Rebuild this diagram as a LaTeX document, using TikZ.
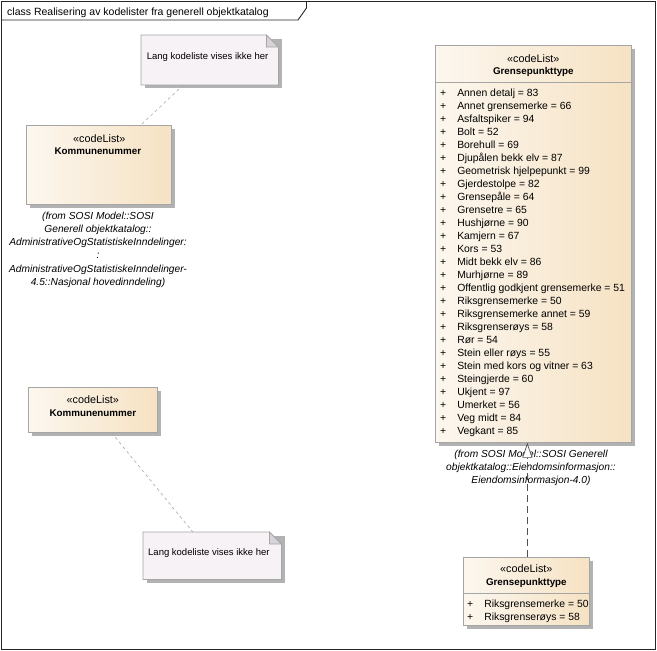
\documentclass[tikz,border=0pt]{standalone}
\usepackage{fontspec}
\setmainfont{Liberation Sans}
\usepackage{xcolor}
\usepackage{tikz}
\usetikzlibrary{arrows.meta}
\usetikzlibrary{calc}
\usetikzlibrary{shadows}
\definecolor{clsleft}{RGB}{252,247,239}
\definecolor{clsright}{RGB}{246,226,195}
\definecolor{clsline}{RGB}{165,165,165}
\definecolor{shadowgray}{RGB}{178,178,178}
\definecolor{notefill}{RGB}{246,242,246}
\definecolor{notefoldc}{RGB}{214,211,217}
\definecolor{linkgray}{RGB}{80,80,80}
\tikzstyle{frame}=[line width=.9pt,draw=black!85]
\tikzstyle{cls}=[draw=clsline,line width=.7pt,left color=clsleft,right color=clsright,anchor=north west,inner sep=0pt,drop shadow={shadow xshift=3.5pt,shadow yshift=-3.5pt,fill=shadowgray,opacity=1}]
\tikzstyle{notebox}=[anchor=north west,inner sep=0pt]
\tikzstyle{txt}=[inner sep=0pt,anchor=base]
\tikzstyle{stereo}=[txt,font=\fontsize{10.8}{13}\selectfont]
\tikzstyle{clsname}=[txt,font=\fontsize{9.8}{13}\selectfont\bfseries]
\tikzstyle{attrs}=[inner sep=0pt,anchor=base west,font=\fontsize{10.4}{13}\selectfont]
\tikzstyle{fromtxt}=[inner sep=0pt,anchor=north,align=center,font=\fontsize{10.2}{13.3}\selectfont\itshape]
\tikzstyle{notetxt}=[inner sep=0pt,anchor=base west,font=\fontsize{9.5}{13}\selectfont]
\tikzstyle{notelink}=[draw=black!35,line width=.6pt,dash pattern=on 3pt off 3pt]
\tikzstyle{real}=[draw=linkgray,line width=.7pt,dash pattern=on 7pt off 4pt,-{Triangle[length=15pt,width=10pt,fill=white]}]
% note with folded corner, drawn round an empty node
\newcommand\notefold[1]{%
  \fill[shadowgray] ([shift={(3.5,3.5)}]#1.north west) rectangle ([shift={(3.5,3.5)}]#1.south east);
  \filldraw[fill=notefill,draw=clsline,line width=.7pt] (#1.north west) -- ([shift={(-12,0)}]#1.north east)
    -- ([shift={(0,12)}]#1.north east) -- (#1.south east) -- (#1.south west) -- cycle;
  \filldraw[fill=notefoldc,draw=clsline,line width=.7pt] ([shift={(-12,0)}]#1.north east)
    -- ([shift={(-12,12)}]#1.north east) -- ([shift={(0,12)}]#1.north east) -- cycle;}

\begin{document}
\begin{tikzpicture}[x=1pt,y=-1pt]
	\useasboundingbox (0,0) rectangle (657,651);
	% frame and title tab
	\draw[frame] (1.5,1.5) rectangle (655.5,649.5);
	\draw[frame] (1.5,20) -- (298,20) -- (306.5,8) -- (306.5,1.5);
	\node[txt,anchor=base west,font=\fontsize{10.5}{13}\selectfont] (title) at (7,15) {class Realisering av kodelister fra generell objektkatalog};

	% boxes
	\node[cls,minimum width=145,minimum height=79] (kn1) at (26,125) {};
	\node[cls,minimum width=196,minimum height=397] (gpt) at (435,45) {};
	\node[cls,minimum width=126,minimum height=68] (gpt2) at (463,557) {};
	\node[cls,minimum width=129,minimum height=45] (kn2) at (28,387) {};
	\draw[clsline,line width=.7pt] ($(gpt.north west)+(0,37)$) -- ($(gpt.north east)+(0,37)$);
	\draw[clsline,line width=.7pt] ($(gpt2.north west)+(0,36)$) -- ($(gpt2.north east)+(0,36)$);

	% notes
	\node[notebox,minimum width=137,minimum height=49.5] (note1) at (141,35) {};
	\node[notebox,minimum width=138,minimum height=47] (note2) at (143,532) {};
	\notefold{note1}
	\notefold{note2}
	\node[notetxt] (note1-t) at ([shift={(5.7,24.3)}]note1.north west) {Lang kodeliste vises ikke her};
	\node[notetxt] (note2-t) at ([shift={(5,23.3)}]note2.north west) {Lang kodeliste vises ikke her};

	% Kommunenummer, upper
	\node[stereo] (kn1-s) at ($(kn1.north)+(0.5,17)$) {«codeList»};
	\node[clsname] (kn1-n) at ($(kn1.north)+(-1,29)$) {Kommunenummer};
	\node[fromtxt] (kn1-f) at (98,211.5) {(from SOSI Model::SOSI\\Generell objektkatalog::\\AdministrativeOgStatistiskeInndelinger:\\:\\AdministrativeOgStatistiskeInndelinger-\\4.5::Nasjonal hovedinndeling)};

	% Grensepunkttype, full list
	\node[stereo] (gpt-s) at ($(gpt.north)+(0,17)$) {«codeList»};
	\node[clsname] (gpt-n) at ($(gpt.north)+(0,29.5)$) {Grensepunkttype};
	\node[attrs] (gpt-a) at (440,96.7) {\begin{tabular}[t]{@{}c@{\hspace{11pt}}l@{}}
	  + & Annen detalj = 83\\ + & Annet grensemerke = 66\\ + & Asfaltspiker = 94\\ + & Bolt = 52\\
	  + & Borehull = 69\\ + & Djupålen bekk elv = 87\\ + & Geometrisk hjelpepunkt = 99\\ + & Gjerdestolpe = 82\\
	  + & Grensepåle = 64\\ + & Grensetre = 65\\ + & Hushjørne = 90\\ + & Kamjern = 67\\
	  + & Kors = 53\\ + & Midt bekk elv = 86\\ + & Murhjørne = 89\\ + & Offentlig godkjent grensemerke = 51\\
	  + & Riksgrensemerke = 50\\ + & Riksgrensemerke annet = 59\\ + & Riksgrenserøys = 58\\ + & Rør = 54\\
	  + & Stein eller røys = 55\\ + & Stein med kors og vitner = 63\\ + & Steingjerde = 60\\ + & Ukjent = 97\\
	  + & Umerket = 56\\ + & Veg midt = 84\\ + & Vegkant = 85
	\end{tabular}};
	\node[fromtxt] (gpt-f) at (531,449.7) {(from SOSI Model::SOSI Generell\\objektkatalog::Eiendomsinformasjon::\\Eiendomsinformasjon-4.0)};

	% Grensepunkttype, realised
	\node[stereo] (gpt2-s) at ($(gpt2.north)+(0,15.5)$) {«codeList»};
	\node[clsname] (gpt2-n) at ($(gpt2.north)+(0,28)$) {Grensepunkttype};
	\node[attrs] (gpt2-a) at (467,607.5) {\begin{tabular}[t]{@{}c@{\hspace{11pt}}l@{}}
	  + & Riksgrensemerke = 50\\ + & Riksgrenserøys = 58
	\end{tabular}};

	% Kommunenummer, lower
	\node[stereo] (kn2-s) at ($(kn2.north)+(0,16)$) {«codeList»};
	\node[clsname] (kn2-n) at ($(kn2.north)+(0,29)$) {Kommunenummer};

	% links
	\draw[notelink] (note1) -- (kn1);
	\draw[notelink] (kn2) -- (note2);
	\draw[real] ([xshift=1pt]gpt2.north) -- ([xshift=1pt]gpt2.north |- gpt.south);
\end{tikzpicture}
\end{document}
